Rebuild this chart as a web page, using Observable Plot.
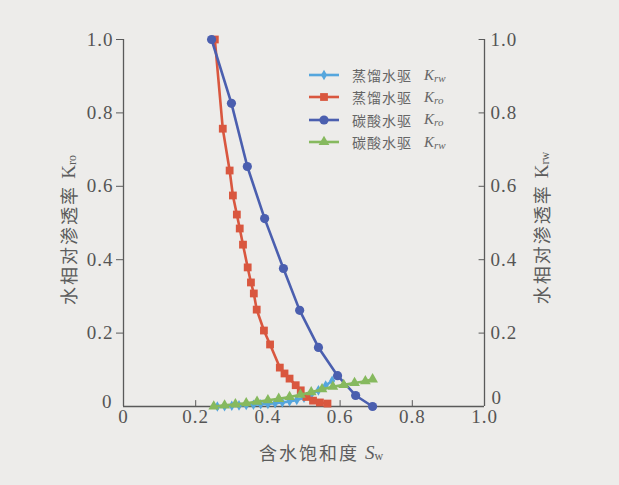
<!DOCTYPE html>
<html><head><meta charset="utf-8">
<script src="https://cdn.jsdelivr.net/npm/d3@7"></script>
<script src="https://cdn.jsdelivr.net/npm/@observablehq/plot@0.6"></script>
<style>
body{margin:0;background:#edecea;}
#wrap{position:relative;width:619px;height:485px;overflow:hidden;background:#edecea;}
#legend{position:absolute;left:306px;top:64px;font-family:"Noto Sans CJK SC";font-size:14px;color:#666;}
#legend .row{height:22.3px;display:flex;align-items:center;white-space:nowrap;}
#legend .k{font-family:"Liberation Serif";font-style:italic;font-size:15px;margin-left:12px;}
#legend sub{font-size:11px;vertical-align:-2px;}
</style></head><body><div id="wrap"><div id="legend"></div></div>
<script>
// Axis ticks
const ticks = [0, 0.2, 0.4, 0.6, 0.8, 1.0];
const tickLabels = ["0", "0.2", "0.4", "0.6", "0.8", "1.0"];

// Legend / series
const seriesNames = ["蒸馏水驱", "蒸馏水驱", "碳酸水驱", "碳酸水驱"];
const seriesSub = ["rw", "ro", "ro", "rw"];
const seriesColors = ["#55a6dd", "#d9573f", "#4b5faf", "#86b95e"];
const seriesSymbols = ["diamond", "square", "circle", "triangle"];

// 蒸馏水驱 Krw
const distKrwSw = [0.26, 0.28, 0.30, 0.32, 0.34, 0.36, 0.38, 0.40, 0.42, 0.44, 0.46, 0.48, 0.50, 0.52, 0.54, 0.56, 0.578];
const distKrw   = [0.000, 0.001, 0.002, 0.003, 0.004, 0.005, 0.006, 0.007, 0.009, 0.011, 0.014, 0.018, 0.024, 0.033, 0.044, 0.057, 0.070];

// 蒸馏水驱 Kro
const distKroSw = [0.253, 0.275, 0.294, 0.303, 0.314, 0.322, 0.331, 0.344, 0.353, 0.361, 0.369, 0.389, 0.406, 0.433, 0.446, 0.460, 0.477, 0.491, 0.507, 0.525, 0.544, 0.565];
const distKro   = [1.000, 0.757, 0.643, 0.575, 0.523, 0.485, 0.441, 0.379, 0.338, 0.308, 0.264, 0.207, 0.169, 0.106, 0.090, 0.076, 0.058, 0.044, 0.026, 0.016, 0.011, 0.008];

// 碳酸水驱 Kro
const co2KroSw = [0.244, 0.299, 0.343, 0.391, 0.443, 0.488, 0.540, 0.593, 0.643, 0.690];
const co2Kro   = [1.000, 0.826, 0.654, 0.512, 0.376, 0.262, 0.161, 0.084, 0.030, 0.000];

// 碳酸水驱 Krw
const co2KrwSw = [0.25, 0.28, 0.31, 0.34, 0.37, 0.40, 0.43, 0.46, 0.49, 0.52, 0.55, 0.58, 0.61, 0.64, 0.67, 0.69];
const co2Krw   = [0.000, 0.003, 0.006, 0.009, 0.013, 0.017, 0.021, 0.026, 0.032, 0.039, 0.047, 0.054, 0.059, 0.064, 0.069, 0.074];

const toRows = (xs, ys) => xs.map((x, i) => ({x, y: ys[i]}));
const series = [
  toRows(distKrwSw, distKrw),
  toRows(distKroSw, distKro),
  toRows(co2KroSw, co2Kro),
  toRows(co2KrwSw, co2Krw)
];
const dotR = [3.2, 4.4, 4.6, 4.0];

const fmt = d => tickLabels[ticks.indexOf(d)];
const axisColor = "#5a5a5a";

const marks = [
  Plot.ruleY([0], {stroke: axisColor, strokeWidth: 1.3}),
  Plot.ruleX([0, 1], {stroke: axisColor, strokeWidth: 1.3}),
  Plot.ruleX(ticks.slice(1, -1), {y1: 0, y2: 0.016, stroke: axisColor}),
  Plot.ruleY(ticks, {x1: 0.985, x2: 1, stroke: axisColor}),
  Plot.axisY({anchor: "left", ticks: ticks.slice(1), tickFormat: fmt, tickSize: 7, tickPadding: 3, label: null, stroke: axisColor}),
  Plot.text([0], {x: 0, y: d => d, text: fmt, dx: -11, dy: -5, textAnchor: "end", fill: "#555"}),
  Plot.axisY({anchor: "right", ticks: ticks.slice(1), tickFormat: fmt, tickSize: 0, tickPadding: 6, label: null}),
  Plot.text([0], {x: 1, y: d => d, text: fmt, dx: 7, dy: -9, textAnchor: "start", fill: "#555"}),
  Plot.axisX({anchor: "bottom", ticks, tickFormat: fmt, tickSize: 0, tickPadding: 3, label: null})
];
series.forEach((rows, i) => {
  marks.push(Plot.line(rows, {x: "x", y: "y", stroke: seriesColors[i], strokeWidth: 2.6, curve: "linear"}));
  marks.push(Plot.dot(rows, {x: "x", y: "y", fill: seriesColors[i], stroke: "none", symbol: () => seriesSymbols[i], r: dotR[i]}));
});

const chart = Plot.plot({
  width: 619, height: 485,
  marginLeft: 123, marginRight: 135, marginTop: 39, marginBottom: 79,
  x: {domain: [0, 1]},
  y: {domain: [0, 1]},
  style: {background: "transparent", fontFamily: "Liberation Serif", fontSize: "19px", color: "#555", letterSpacing: "1px"},
  marks
});
document.getElementById("wrap").prepend(chart);

const svg = d3.select(chart);
function addLabel(x, y, rot, zh, k, sub, kStyle) {
  const t = svg.append("text")
    .attr("transform", `translate(${x},${y}) rotate(${rot})`)
    .attr("text-anchor", "middle")
    .attr("dominant-baseline", "central")
    .attr("fill", "#5c5c5c")
    .style("font-family", "'Noto Sans CJK SC'")
    .style("font-size", "18px")
    .style("letter-spacing", "2px");
  t.append("tspan").text(zh + " ");
  t.append("tspan").text(k).style("font-family", "'Liberation Serif'").style("font-style", kStyle).style("font-size", "19px").style("letter-spacing", "0px");
  t.append("tspan").text(sub).attr("dy", 4).style("font-family", "'Liberation Serif'").style("font-size", "12px").style("letter-spacing", "0px");
}
addLabel(68, 230, -90, "水相对渗透率", "K", "ro", "normal");
addLabel(541, 228, -90, "水相对渗透率", "K", "rw", "normal");
addLabel(321, 452, 0, "含水饱和度", "S", "w", "italic");

// Legend
const leg = d3.select("#legend");
seriesNames.forEach((name, i) => {
  const row = leg.append("div").attr("class", "row");
  const s = row.append("svg").attr("width", 36).attr("height", 14);
  s.append("line").attr("x1", 3).attr("x2", 33).attr("y1", 7).attr("y2", 7).attr("stroke", seriesColors[i]).attr("stroke-width", 2.6);
  const sym = {diamond: d3.symbolDiamond, square: d3.symbolSquare, circle: d3.symbolCircle, triangle: d3.symbolTriangle}[seriesSymbols[i]];
  s.append("path").attr("transform", "translate(18,7)").attr("d", d3.symbol(sym, Math.PI * dotR[i] * dotR[i])()).attr("fill", seriesColors[i]);
  row.append("span").style("margin-left", "10px").style("letter-spacing", "1px").text(name);
  row.append("span").attr("class", "k").html(`K<sub>${seriesSub[i]}</sub>`);
});
</script></body></html>
